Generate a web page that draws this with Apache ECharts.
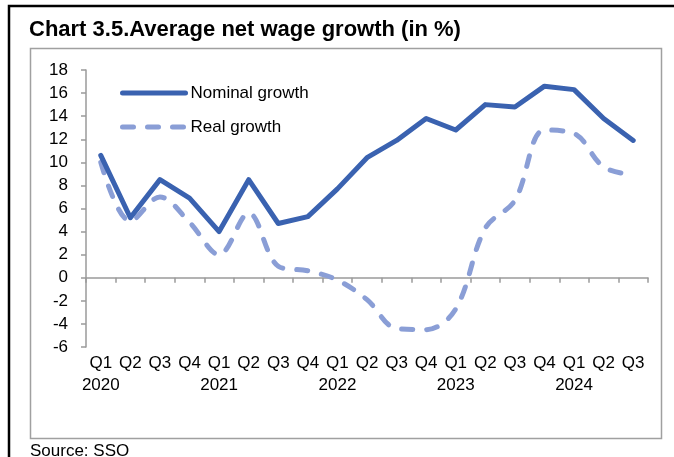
<!DOCTYPE html>
<html>
<head>
<meta charset="utf-8">
<script src="https://cdn.jsdelivr.net/npm/echarts@6/dist/echarts.min.js"></script>
<style>
  html, body { margin: 0; padding: 0; background: #fff; }
  #chart { width: 674px; height: 457px; }
</style>
</head>
<body>
<div id="chart"></div>
<script>
// Quarterly labels and the year shown under each first quarter
const quarters = ['Q1','Q2','Q3','Q4','Q1','Q2','Q3','Q4','Q1','Q2','Q3','Q4','Q1','Q2','Q3','Q4','Q1','Q2','Q3'];
const years    = ['2020','','','','2021','','','','2022','','','','2023','','','','2024','',''];

// Year-on-year growth of the average net wage, %
const nominalGrowth = [10.6, 5.2, 8.5, 6.9, 4.0, 8.5, 4.7, 5.3, 7.7, 10.4, 11.9, 13.8, 12.8, 15.0, 14.8, 16.6, 16.3, 13.8, 11.9];
const realGrowth    = [10.0, 4.9, 7.0, 4.8, 2.0, 5.6, 1.0, 0.6, -0.2, -1.9, -4.4, -4.5, -2.7, 4.3, 6.7, 12.8, 12.5, 9.6, 8.9];

const yTicks = { min: -6, max: 18, step: 2 };

const FONT = 'Liberation Sans, Arial, sans-serif';
const AXIS_GREY = '#9a9a9a';
const NOMINAL_COLOR = '#3a62b0';
const REAL_COLOR = '#8a9ed6';

const chart = echarts.init(document.getElementById('chart'), null, { renderer: 'canvas' });

chart.setOption({
  animation: false,
  backgroundColor: '#ffffff',
  textStyle: { fontFamily: FONT, color: '#000' },
  title: {
    text: 'Chart 3.5.Average net wage growth (in %)',
    left: 29,
    top: 19,
    padding: 0,
    textStyle: { fontFamily: FONT, fontSize: 22, fontWeight: 'bold', color: '#000' }
  },
  graphic: [
    { type: 'rect', shape: { x: 9, y: 6, width: 700, height: 500 },
      style: { fill: 'none', stroke: '#000', lineWidth: 2.5 }, silent: true },
    { type: 'rect', shape: { x: 30.5, y: 48.5, width: 631, height: 390 },
      style: { fill: 'none', stroke: '#a0a0a0', lineWidth: 1.5 }, silent: true },
    { type: 'text', left: 30, top: 443,
      style: { text: 'Source: SSO', font: '17px ' + FONT, fill: '#000' } }
  ],
  legend: {
    orient: 'vertical',
    left: 120,
    top: 83,
    padding: 0,
    itemWidth: 63,
    itemHeight: 14,
    itemGap: 14,
    itemStyle: { opacity: 0 },
    lineStyle: { width: 5, cap: 'round' },
    textStyle: { fontFamily: FONT, fontSize: 17, color: '#000', lineHeight: 20 },
    data: ['Nominal growth', 'Real growth']
  },
  grid: { left: 86, right: 26, top: 70, bottom: 110, containLabel: false },
  xAxis: [
    {
      type: 'category',
      data: quarters,
      boundaryGap: true,
      axisLine: { show: true, onZero: true, lineStyle: { color: AXIS_GREY, width: 1.5 } },
      axisTick: { show: true, inside: false, length: 5, alignWithLabel: false, lineStyle: { color: AXIS_GREY, width: 1.5 } },
      axisLabel: { show: false },
      splitLine: { show: false }
    },
    {
      type: 'category',
      data: quarters,
      position: 'bottom',
      boundaryGap: true,
      axisLine: { show: false, onZero: false },
      axisTick: { show: false },
      splitLine: { show: false },
      axisLabel: {
        show: true,
        interval: 0,
        margin: 5,
        fontFamily: FONT,
        fontSize: 17,
        lineHeight: 22,
        color: '#000',
        formatter: (value, idx) => years[idx] ? value + '\n' + years[idx] : value
      }
    }
  ],
  yAxis: {
    type: 'value',
    min: yTicks.min,
    max: yTicks.max,
    interval: yTicks.step,
    axisLine: { show: true, lineStyle: { color: AXIS_GREY, width: 1.5 } },
    axisTick: { show: true, inside: false, length: 5, lineStyle: { color: AXIS_GREY, width: 1.5 } },
    splitLine: { show: false },
    axisLabel: { margin: 18, fontFamily: FONT, fontSize: 17, color: '#000' }
  },
  series: [
    {
      name: 'Nominal growth',
      type: 'line',
      xAxisIndex: 0,
      data: nominalGrowth,
      symbol: 'none',
      lineStyle: { color: NOMINAL_COLOR, width: 5, cap: 'round', join: 'round' },
      itemStyle: { color: NOMINAL_COLOR },
      z: 3
    },
    {
      name: 'Real growth',
      type: 'line',
      xAxisIndex: 0,
      data: realGrowth,
      symbol: 'none',
      smooth: 0.35,
      lineStyle: { color: REAL_COLOR, width: 5, type: [11, 14], cap: 'round', join: 'round' },
      itemStyle: { color: REAL_COLOR },
      z: 2
    }
  ]
});
</script>
</body>
</html>
